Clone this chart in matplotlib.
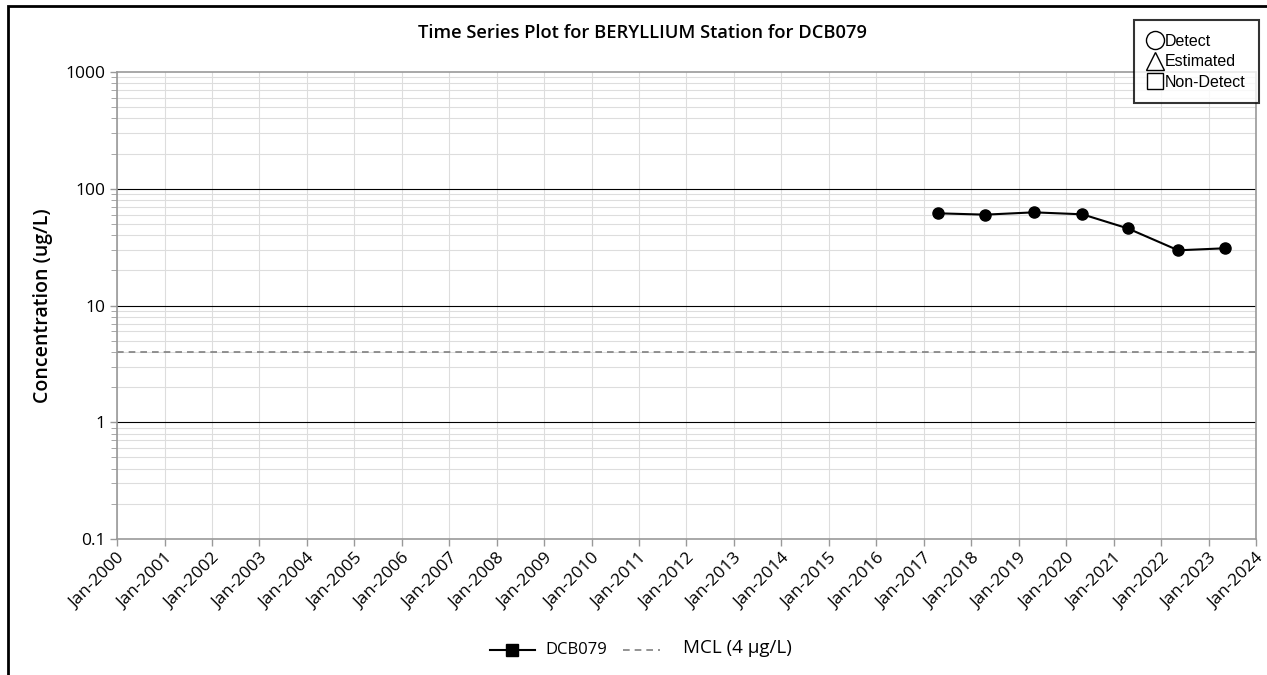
import datetime as dt
import matplotlib
matplotlib.use("Agg")
import matplotlib.pyplot as plt
import matplotlib.dates as mdates
from matplotlib.lines import Line2D
from matplotlib.patches import Rectangle

plt.rcParams['font.family'] = ['Open Sans', 'DejaVu Sans']

# sample dates and concentrations
sampleDates = [dt.date(2017, 4, 22), dt.date(2018, 4, 18), dt.date(2019, 4, 28), dt.date(2020, 5, 5),
               dt.date(2021, 4, 18), dt.date(2022, 5, 12), dt.date(2023, 5, 5)]
concentrations = [61.6, 60.0, 62.8, 60.4, 45.8, 29.7, 30.9]
mclValue = 4
stationName = "DCB079"
yearTicks = list(range(2000, 2025))

W, H = 1267, 675

def fx(px):
    return px / W

def fy(py):
    return 1 - py / H

fig = plt.figure(figsize=(W / 100, H / 100), dpi=100)
ax = fig.add_axes([fx(117), fy(539), fx(1256 - 117), (539 - 72) / H])

ax.set_yscale('log')
ax.set_ylim(0.1, 1000)
ax.set_xlim(dt.date(2000, 1, 1), dt.date(2024, 1, 1))

# grid: light vertical / minor lines, black decade lines
ax.grid(True, which='minor', axis='y', color='#dddddd', linewidth=0.8)
ax.grid(True, which='major', axis='x', color='#dddddd', linewidth=0.8)
for decade in [1, 10, 100]:
    ax.axhline(decade, color='black', linewidth=0.8, zorder=1)
ax.set_axisbelow(True)

ax.axhline(mclValue, color='#808080', linestyle=(0, (4, 3)), linewidth=1.2, zorder=2)
ax.plot(sampleDates, concentrations, color='black', linewidth=1.5, marker='o', markersize=8, zorder=3)

ax.xaxis.set_major_formatter(mdates.DateFormatter('%b-%Y'))
ax.set_xticks([dt.date(y, 1, 1) for y in yearTicks])
plt.setp(ax.get_xticklabels(), rotation=45, ha='right', rotation_mode='anchor', fontsize=12.5)
ax.set_yticks([0.1, 1, 10, 100, 1000])
ax.set_yticklabels(['0.1', '1', '10', '100', '1000'], fontsize=12.5)
ax.tick_params(axis='both', which='major', length=5, color='#999999', width=1)
ax.tick_params(axis='y', which='minor', length=4, color='#999999')
ax.yaxis.set_minor_formatter(plt.NullFormatter())
for side in ['top', 'right', 'left', 'bottom']:
    ax.spines[side].set_color('#999999')
    ax.spines[side].set_linewidth(1.2)

ax.set_ylabel('Concentration (ug/L)', fontsize=14, fontweight='semibold', labelpad=9)
fig.text(fx(642), fy(33), 'Time Series Plot for BERYLLIUM Station for DCB079',
         ha='center', va='center', fontsize=13.2, fontweight='semibold')

# outer frame (left and top edges visible)
fig.patches.append(Rectangle((fx(8), -0.05), 1.2, fy(6) + 0.05, transform=fig.transFigure,
                             fill=False, edgecolor='black', linewidth=2))

# symbol key box in the upper right
keyHandles = [Line2D([], [], linestyle='none', marker='o', markerfacecolor='white', markeredgecolor='black', markersize=13),
              Line2D([], [], linestyle='none', marker='^', markerfacecolor='white', markeredgecolor='black', markersize=13),
              Line2D([], [], linestyle='none', marker='s', markerfacecolor='white', markeredgecolor='black', markersize=12)]
keyLeg = fig.legend(keyHandles, ['Detect', 'Estimated', 'Non-Detect'], loc='upper right',
                    bbox_to_anchor=(fx(1259), fy(20)), frameon=True, fancybox=False,
                    edgecolor='black', prop={'family': 'Liberation Sans', 'size': 11.5}, handletextpad=0.1,
                    labelspacing=0.35, borderpad=0.85, handlelength=1.0, borderaxespad=0)
keyLeg.get_frame().set_linewidth(1.5)

# series legend at the bottom, drawn piece by piece
legY = fy(650)
fig.add_artist(Line2D([fx(490), fx(535)], [legY, legY], color='black', linewidth=1.5, transform=fig.transFigure))
fig.add_artist(Line2D([fx(512)], [legY], color='black', marker='s', markersize=8, transform=fig.transFigure))
fig.text(fx(545), legY, stationName, ha='left', va='center', fontsize=12)
fig.add_artist(Line2D([fx(623), fx(660)], [legY, legY], color='#808080', linestyle=(0, (4, 3)),
                      linewidth=1.2, transform=fig.transFigure))
fig.text(fx(683), legY + 0.003, 'MCL (4 µg/L)', ha='left', va='center', fontsize=13.5)

fig.savefig('out.png', dpi=100)
